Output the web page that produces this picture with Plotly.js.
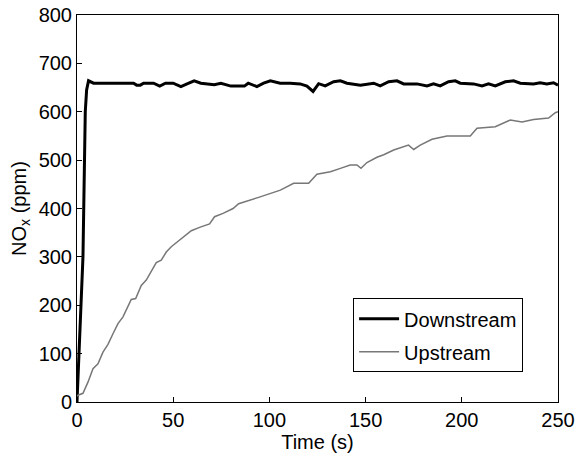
<!DOCTYPE html>
<html>
<head>
<meta charset="utf-8">
<script src="https://cdn.plot.ly/plotly-3.0.1.min.js"></script>
<style>html,body{margin:0;padding:0;background:#fff;}#chart{width:576px;height:456px;}</style>
</head>
<body>
<div id="chart"></div>
<script>
// Downstream NOx (ppm) vs time (s)
var downTime = [0, 0.9, 2.1, 3.1, 3.4, 3.8, 4.3, 5, 6, 8.6, 20, 29.4, 31, 32.9, 34.6, 39.8, 43, 46, 50, 54, 57.5, 60.9, 64.4, 67.8, 71.3, 74.8, 80, 87, 89, 93.5, 97, 100.5, 105.6, 110.8, 116, 119.5, 122.7, 125.6, 129, 133.4, 136.9, 140.3, 147.3, 154.2, 157.6, 162, 166.3, 169.8, 176.7, 181.9, 185.3, 188.8, 193.1, 196.6, 199.2, 206.1, 210.5, 213.9, 217.4, 222.6, 226.9, 230.4, 237.3, 240.7, 244.2, 247.7, 250];
var downNOx  = [0, 100, 203, 300, 403, 500, 600, 645, 664, 659, 659, 659, 655, 655, 659, 659, 653, 659, 659, 652, 658, 664, 659, 658, 656, 659, 653, 653, 659, 652, 659, 664, 659, 659, 657.6, 653, 642, 658, 653.5, 662, 664, 659, 655, 659, 653.5, 662, 664, 657.6, 657.6, 653.5, 657.6, 653.5, 662, 664, 659, 657.6, 653.5, 657.6, 653.5, 662, 664, 659, 657.6, 660, 657.6, 660, 655];

// Upstream NOx (ppm) vs time (s)
var upTime = [0, 0.5, 3.1, 5.7, 8.3, 10.9, 13.5, 16.1, 18.7, 21.3, 23.9, 26.5, 28.2, 30.5, 33.4, 36, 38.6, 41.2, 43.8, 46.4, 49, 51.6, 55.1, 59.4, 63.7, 68.9, 71.5, 75.9, 81.1, 84, 94.4, 99.6, 105.7, 112.6, 120.4, 124.7, 131.7, 136.9, 142, 145.5, 147.6, 150.7, 155.9, 159.4, 164.6, 172.3, 175, 178.4, 184.5, 192.3, 204.4, 207.9, 217.4, 225.2, 231.3, 237.3, 245.1, 248.6, 250];
var upNOx  = [12, 14, 18, 41, 69, 79, 103, 119, 141, 162, 176, 200, 212, 214, 241, 252, 269, 288, 293, 310, 321, 329, 341, 354, 361, 368, 383, 390, 400, 410, 423, 430, 438, 452, 452, 471, 476, 483, 490, 490, 483, 495, 506, 511, 521, 531, 522, 531, 543, 550, 550, 566, 569, 583, 579, 584, 587, 598, 600];

var seriesNames = ["Downstream", "Upstream"];
var xTicks = [0, 50, 100, 150, 200, 250];
var yTicks = [0, 100, 200, 300, 400, 500, 600, 700, 800];

var traces = [
  {x: downTime, y: downNOx, name: seriesNames[0], mode: "lines", type: "scatter",
   legendgroup: "a", line: {color: "#000000", width: 3}},
  {x: upTime, y: upNOx, name: seriesNames[1], mode: "lines", type: "scatter",
   legendgroup: "b", line: {color: "#777777", width: 1.5}}
];

var font = {family: "Liberation Sans, Arial, sans-serif", size: 20, color: "#000"};

var layout = {
  width: 576, height: 456,
  margin: {l: 77, r: 18, t: 15, b: 54},
  paper_bgcolor: "#fff", plot_bgcolor: "#fff",
  font: font,
  showlegend: true,
  legend: {x: 0.574, y: 0.268, xanchor: "left", yanchor: "top",
           bgcolor: "#fff", bordercolor: "#000", borderwidth: 1,
           font: {family: font.family, size: 20, color: "#000"},
           itemwidth: 40, traceorder: "grouped", tracegroupgap: 4},
  xaxis: {range: [0, 250], tickvals: xTicks, ticktext: xTicks.map(String),
          ticks: "inside", ticklen: 5, tickcolor: "#000",
          showline: true, linecolor: "#000", linewidth: 1, mirror: true,
          showgrid: false, zeroline: false,
          tickfont: {family: font.family, size: 20, color: "#000"},
          title: {text: "Time (s)", font: font, standoff: 0}},
  yaxis: {range: [0, 800], tickvals: yTicks, ticktext: yTicks.map(String),
          ticks: "inside", ticklen: 5, tickcolor: "#000",
          showline: true, linecolor: "#000", linewidth: 1, mirror: true,
          showgrid: false, zeroline: false,
          tickfont: {family: font.family, size: 20, color: "#000"},
          title: {text: "NO<sub>x</sub> (ppm)", font: font, standoff: 6}}
};

Plotly.newPlot("chart", traces, layout, {displayModeBar: false, staticPlot: true});
</script>
</body>
</html>
